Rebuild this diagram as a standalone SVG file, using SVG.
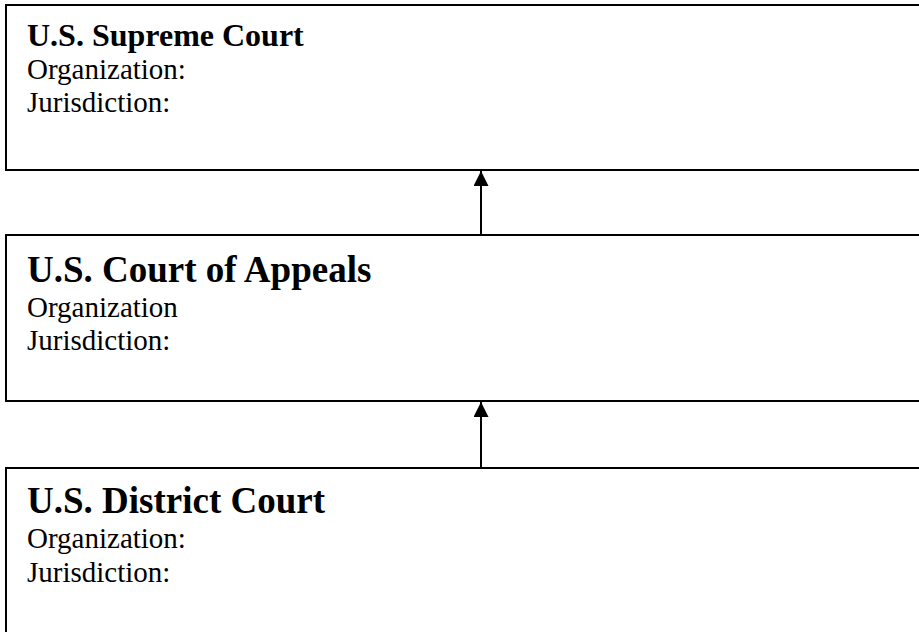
<svg xmlns="http://www.w3.org/2000/svg" width="919" height="632" viewBox="0 0 919 632">
<defs>
<style>
.box{fill:#fff;stroke:#000;stroke-width:2}
.title{font-family:"Liberation Serif","Times New Roman",serif;font-weight:bold;fill:#000}
.body{font-family:"Liberation Serif","Times New Roman",serif;font-size:29px;fill:#000}
.conn{stroke:#000;stroke-width:2;fill:none}
</style>
<marker id="ah" viewBox="0 0 15 15" refX="15" refY="7.5" markerWidth="15" markerHeight="15" markerUnits="userSpaceOnUse" orient="auto">
<path d="M0,0 L15,7.5 L0,15 Z" fill="#000"/>
</marker>
</defs>
<rect width="919" height="632" fill="#fff"/>
<g id="supreme">
<rect class="box" x="6" y="5" width="1000" height="165"/>
<text class="title" x="27" y="46" font-size="32">U.S. Supreme Court</text>
<text class="body" x="27" y="79">Organization:</text>
<text class="body" x="27" y="112">Jurisdiction:</text>
</g>
<g id="appeals">
<rect class="box" x="6" y="235" width="1000" height="166"/>
<text class="title" x="27" y="282" font-size="37">U.S. Court of Appeals</text>
<text class="body" x="27" y="317">Organization</text>
<text class="body" x="27" y="350">Jurisdiction:</text>
</g>
<g id="district">
<rect class="box" x="6" y="468" width="1000" height="200"/>
<text class="title" x="27" y="513" font-size="37">U.S. District Court</text>
<text class="body" x="27" y="548">Organization:</text>
<text class="body" x="27" y="582">Jurisdiction:</text>
</g>
<g id="connectors">
<line class="conn" x1="481" y1="235" x2="481" y2="171" marker-end="url(#ah)"/>
<line class="conn" x1="481" y1="468" x2="481" y2="402" marker-end="url(#ah)"/>
</g>
</svg>
